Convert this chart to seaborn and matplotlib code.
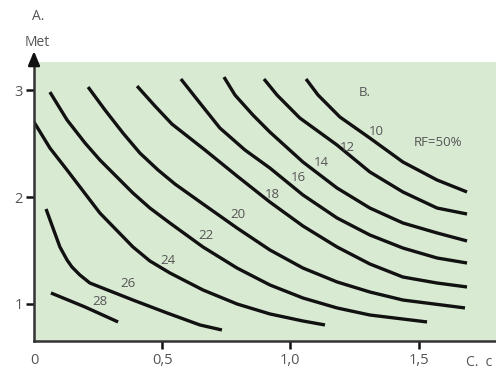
import numpy as np
import pandas as pd
import matplotlib
matplotlib.use("Agg")
import matplotlib.pyplot as plt
import seaborn as sns

# --- Data (x, y in axis units) ---
x10 = [1.061, 1.108, 1.193, 1.310, 1.439, 1.572, 1.689]
y10 = [3.103, 2.953, 2.748, 2.551, 2.327, 2.159, 2.047]

x12 = [0.897, 0.948, 1.037, 1.182, 1.310, 1.439, 1.572, 1.689]
y12 = [3.103, 2.953, 2.738, 2.486, 2.234, 2.047, 1.897, 1.841]

x14 = [0.741, 0.784, 0.854, 0.920, 1.049, 1.182, 1.310, 1.439, 1.572, 1.689]
y14 = [3.121, 2.953, 2.766, 2.607, 2.327, 2.084, 1.897, 1.757, 1.664, 1.589]

x16 = [0.573, 0.647, 0.725, 0.823, 0.920, 1.049, 1.182, 1.310, 1.439, 1.572, 1.689]
y16 = [3.103, 2.879, 2.645, 2.439, 2.271, 2.019, 1.804, 1.645, 1.523, 1.430, 1.383]

x18 = [0.402, 0.472, 0.538, 0.667, 0.792, 0.920, 1.049, 1.182, 1.310, 1.439, 1.572, 1.689]
y18 = [3.037, 2.850, 2.682, 2.439, 2.196, 1.953, 1.729, 1.533, 1.374, 1.252, 1.196, 1.159]

x20 = [0.211, 0.277, 0.347, 0.413, 0.484, 0.550, 0.659, 0.792, 0.920, 1.049, 1.182, 1.310, 1.439, 1.681]
y20 = [3.028, 2.813, 2.598, 2.411, 2.252, 2.121, 1.935, 1.710, 1.505, 1.336, 1.206, 1.112, 1.037, 0.963]

x22 = [0.062, 0.129, 0.199, 0.257, 0.386, 0.452, 0.530, 0.659, 0.792, 0.920, 1.049, 1.182, 1.310, 1.533]
y22 = [2.981, 2.720, 2.505, 2.346, 2.037, 1.897, 1.757, 1.533, 1.336, 1.178, 1.056, 0.963, 0.897, 0.832]

x24 = [0.0, 0.062, 0.129, 0.257, 0.386, 0.452, 0.530, 0.659, 0.792, 0.920, 1.049, 1.135]
y24 = [2.701, 2.458, 2.252, 1.850, 1.533, 1.402, 1.290, 1.131, 1.000, 0.907, 0.841, 0.804]

x26 = [0.047, 0.074, 0.101, 0.129, 0.148, 0.179, 0.218, 0.257, 0.386, 0.519, 0.647, 0.733]
y26 = [1.888, 1.710, 1.533, 1.411, 1.346, 1.271, 1.196, 1.159, 1.037, 0.916, 0.804, 0.757]

x28 = [0.066, 0.199, 0.328]
y28 = [1.103, 0.972, 0.832]

curve_names = ["10", "12", "14", "16", "18", "20", "22", "24", "26", "28"]
curve_x = [x10, x12, x14, x16, x18, x20, x22, x24, x26, x28]
curve_y = [y10, y12, y14, y16, y18, y20, y22, y24, y26, y28]

# label positions next to each curve
label_x = [1.334, 1.221, 1.119, 1.030, 0.928, 0.796, 0.671, 0.523, 0.367, 0.257]
label_y = [2.617, 2.467, 2.318, 2.178, 2.019, 1.841, 1.636, 1.411, 1.196, 1.019]

xticks = [0, 0.5, 1.0, 1.5]
xtick_labels = ["0", "0,5", "1,0", "1,5"]
yticks = [1, 2, 3]

# --- Build long table ---
rows = []
for name, xs, ys in zip(curve_names, curve_x, curve_y):
    for i, (xv, yv) in enumerate(zip(xs, ys)):
        rows.append({"curve": name, "order": i, "x": xv, "y": yv})
df = pd.DataFrame(rows)

# --- Plot ---
sns.set_theme(style="white")
plt.rcParams["font.family"] = ["Open Sans", "DejaVu Sans"]

W, H = 496, 370
fig = plt.figure(figsize=(W / 100, H / 100), dpi=100)
ax = fig.add_axes([34 / W, (H - 341) / H, (W - 34) / W, (341 - 62) / H])
ax.set_facecolor("#d9ead3")

for name, grp in df.groupby("curve"):
    sns.lineplot(data=grp, x="x", y="y", ax=ax, color="#111111", lw=2.4,
                 sort=False, estimator=None, legend=False,
                 solid_joinstyle="round", solid_capstyle="butt")

for name, lx, ly in zip(curve_names, label_x, label_y):
    ax.text(lx, ly, name, fontsize=9.5, color="#555555", ha="center", va="center")

ax.text(1.291, 2.981, "B.", fontsize=9.5, color="#555555", ha="center", va="center")
ax.text(1.576, 2.505, "RF=50%", fontsize=9.5, color="#555555", ha="center", va="center")

ax.set_xlim(0, 1.802)
ax.set_ylim(0.654, 3.262)
ax.set_xticks(xticks)
ax.set_xticklabels(xtick_labels)
ax.set_yticks(yticks)
ax.set_xlabel("")
ax.set_ylabel("")

for s in ["top", "right"]:
    ax.spines[s].set_visible(False)
for s in ["left", "bottom"]:
    ax.spines[s].set_color("#333333")
    ax.spines[s].set_linewidth(1.8)

ax.tick_params(axis="both", direction="out", length=6, width=1.8, color="#111111",
               labelsize=10.5, labelcolor="#555555", pad=3,
               left=True, bottom=True)
ax.tick_params(axis="y", pad=2)
ax.xaxis.get_major_ticks()[0].tick1line.set_visible(False)

# arrow on top of the y axis
ax.annotate("", xy=(0, 1.039), xycoords="axes fraction", xytext=(0, 0.99),
            arrowprops=dict(arrowstyle="-|>,head_length=0.6,head_width=0.25",
                            color="#111111", lw=1.8, mutation_scale=14,
                            shrinkA=0, shrinkB=0),
            annotation_clip=False)

fig.text(38 / W, 1 - 16 / H, "A.", fontsize=10, color="#555555", ha="center", va="center")
fig.text(37 / W, 1 - 42 / H, "Met", fontsize=10, color="#555555", ha="center", va="center")
fig.text(466 / W, 1 - 363 / H, "C.  c", fontsize=10, color="#555555", ha="left", va="center")

fig.savefig("out.png", dpi=100)
